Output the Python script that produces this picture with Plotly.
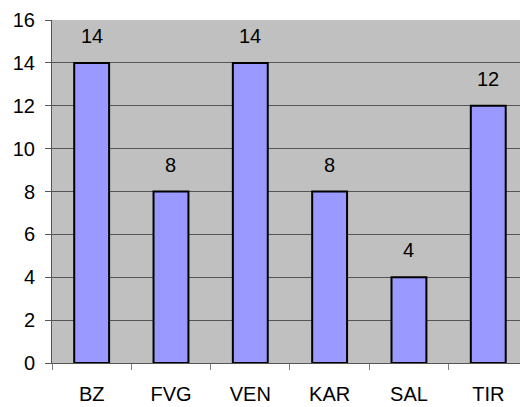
import plotly.graph_objects as go

regions = ["BZ", "FVG", "VEN", "KAR", "SAL", "TIR"]
counts = [14, 8, 14, 8, 4, 12]

font = dict(family="Liberation Sans, Arial, sans-serif", size=20, color="black")

fig = go.Figure(
    go.Bar(
        x=regions,
        y=counts,
        marker=dict(color="#9999FF", line=dict(color="black", width=2)),
        width=0.44,
        hoverinfo="skip",
    )
)

for r, c in zip(regions, counts):
    fig.add_annotation(
        x=r, y=c, text=str(c), showarrow=False,
        yanchor="middle", yshift=27, font=font,
    )

fig.update_layout(
    width=520,
    height=407,
    margin=dict(l=52, r=0, t=20, b=44),
    paper_bgcolor="white",
    plot_bgcolor="#C0C0C0",
    font=font,
    showlegend=False,
)

fig.update_xaxes(
    range=[-0.5, 5.4],
    tickson="boundaries",
    ticks="outside",
    ticklen=6,
    tickcolor="#808080",
    showgrid=False,
    showline=True,
    linecolor="#555555",
    linewidth=1,
    ticklabelstandoff=13,
    tickfont=font,
)

fig.update_yaxes(
    range=[0, 16],
    dtick=2,
    ticks="outside",
    ticklen=6,
    tickcolor="#555555",
    showgrid=True,
    gridcolor="#555555",
    gridwidth=1,
    showline=True,
    linecolor="#555555",
    linewidth=1,
    zeroline=False,
    ticklabelstandoff=6,
    tickfont=font,
)

fig.write_html("out.html")
